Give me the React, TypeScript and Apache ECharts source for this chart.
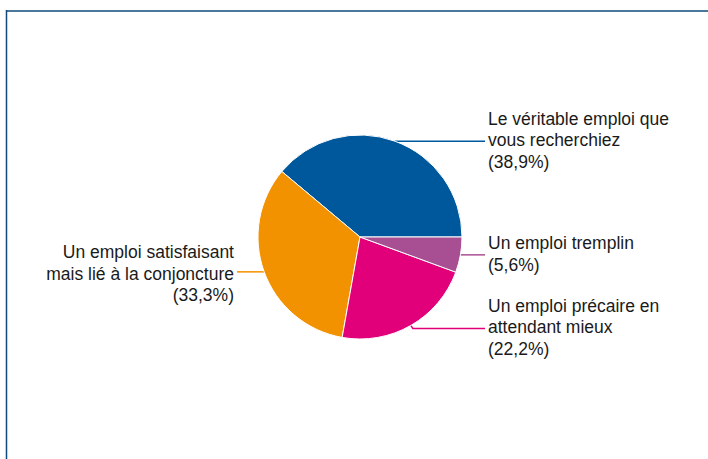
import React, { useEffect, useRef } from "react";
import * as echarts from "echarts";

const categories = [
  "Le véritable emploi que\nvous recherchiez",
  "Un emploi satisfaisant\nmais lié à la conjoncture",
  "Un emploi précaire en\nattendant mieux",
  "Un emploi tremplin",
];
const values = [38.9, 33.3, 22.2, 5.6];
const colors = ["#00589c", "#f39200", "#e2007a", "#a84f93"];

export default function App() {
  const ref = useRef<HTMLDivElement>(null);
  useEffect(() => {
    document.body.style.margin = "0";
    const chart = echarts.init(ref.current!, null, { renderer: "svg" });
    const cx = 360;
    const cy = 237;
    const r = 102;
    chart.setOption({
      animation: false,
      backgroundColor: "#ffffff",
      graphic: [
        { type: "line", shape: { x1: 6.5, y1: 10, x2: 6.5, y2: 459 }, style: { stroke: "#0f4a7a", lineWidth: 1.5 } },
        { type: "line", shape: { x1: 6, y1: 11, x2: 708, y2: 11 }, style: { stroke: "#0f4a7a", lineWidth: 1.5 } },
      ],
      series: [
        {
          type: "pie",
          center: [cx, cy],
          radius: r,
          startAngle: 0,
          clockwise: false,
          avoidLabelOverlap: false,
          itemStyle: { borderColor: "#ffffff", borderWidth: 1 },
          data: categories.map((name, i) => ({
            name,
            value: values[i],
            itemStyle: { color: colors[i] },
            labelLine: { lineStyle: { color: colors[i] } },
          })),
          label: {
            show: true,
            position: "outside",
            fontFamily: "Liberation Sans, Arial, sans-serif",
            fontSize: 17.5,
            lineHeight: 21.5,
            color: "#1a1a1a",
            formatter: (p: any) => `${p.name}\n(${p.value.toFixed(1).replace(".", ",")}%)`,
          },
          labelLine: { show: true, length: 0, length2: 20, lineStyle: { width: 1.5 } },
          labelLayout: (p: any) => {
            const idx = p.dataIndex;
            let sum = 0;
            values.forEach((v) => (sum += v));
            let before = 0;
            for (let k = 0; k < idx; k++) before += values[k];
            const mid = ((before + values[idx] / 2) / sum) * Math.PI * 2;
            const ax = cx + r * Math.cos(mid);
            const ay = cy - r * Math.sin(mid);
            const right = Math.cos(mid) >= 0;
            const dy = idx === 2 ? 3 : 0;
            if (right) {
              const pts = dy
                ? [[ax, ay], [ax + 2, ay + dy], [485, ay + dy]]
                : [[ax, ay], [485, ay]];
              return { x: 488, y: ay + dy - 1, align: "left", verticalAlign: "middle", labelLinePoints: pts };
            }
            return {
              x: 234,
              y: ay + 2,
              align: "right",
              verticalAlign: "middle",
              labelLinePoints: [[ax, ay], [237, ay]],
            };
          },
        },
      ],
    });
    return () => chart.dispose();
  }, []);
  return <div ref={ref} style={{ width: 708, height: 459 }} />;
}
